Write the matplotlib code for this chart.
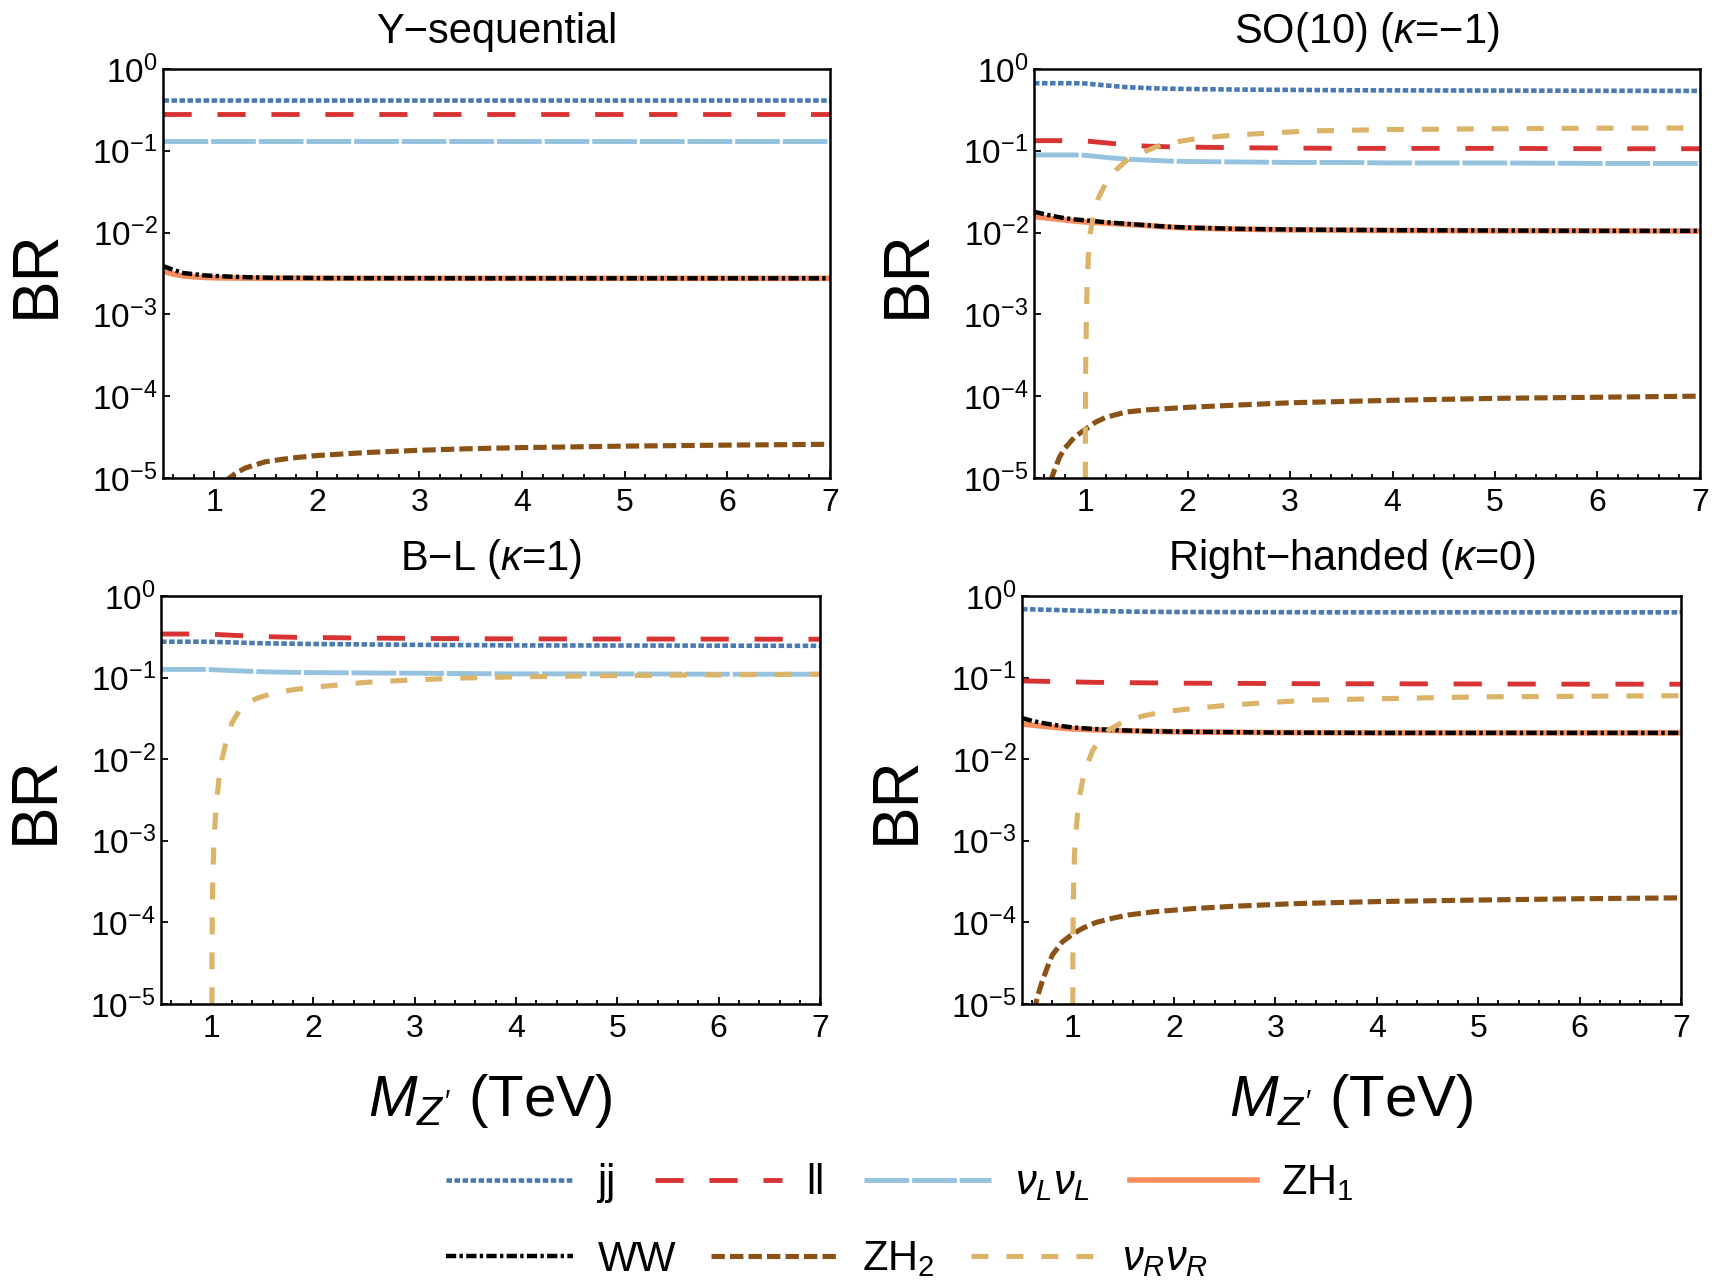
import matplotlib
matplotlib.use('Agg')
import matplotlib.pyplot as plt
from matplotlib.lines import Line2D
from matplotlib.ticker import MultipleLocator, NullLocator, LogLocator

plt.rcParams['font.family'] = ['Liberation Sans', 'DejaVu Sans']
plt.rcParams['mathtext.fontset'] = 'custom'
plt.rcParams['mathtext.rm'] = 'Liberation Sans'
plt.rcParams['mathtext.it'] = 'Liberation Sans:italic'
plt.rcParams['mathtext.bf'] = 'Liberation Sans:bold'

# common mass grid (TeV) for the smooth channels
x_main = [0.5, 0.6, 0.7, 0.8, 0.9, 1.0, 1.2, 1.4, 1.6, 1.8, 2.0, 2.5, 3.0, 3.5, 4.0, 5.0, 6.0, 7.0]

# --- Y-sequential
ys_jj = [0.42] * 18
ys_ll = [0.28] * 18
ys_vLvL = [0.133] * 18
ys_ZH1 = [0.0034, 0.0031, 0.00295, 0.00288, 0.00283, 0.0028, 0.00278, 0.00277, 0.00276, 0.00276,
          0.00276, 0.00276, 0.00276, 0.00276, 0.00276, 0.00276, 0.00276, 0.00276]
ys_WW = [0.0039, 0.0035, 0.0032, 0.0031, 0.0030, 0.00295, 0.00288, 0.00283, 0.0028, 0.0028,
         0.00278, 0.00277, 0.00277, 0.00276, 0.00276, 0.00276, 0.00276, 0.00276]
ys_x_ZH2 = [1.1, 1.2, 1.3, 1.5, 1.75, 2.0, 2.5, 3.0, 3.5, 4.0, 5.0, 6.0, 7.0]
ys_ZH2 = [9e-6, 1.12e-5, 1.32e-5, 1.58e-5, 1.75e-5, 1.88e-5, 2.05e-5, 2.18e-5, 2.28e-5, 2.35e-5,
          2.45e-5, 2.52e-5, 2.58e-5]

# --- SO(10), kappa = -1
so_jj = [0.67, 0.67, 0.67, 0.67, 0.67, 0.665, 0.63, 0.6, 0.585, 0.575, 0.57, 0.56, 0.555, 0.55,
         0.548, 0.545, 0.542, 0.54]
so_ll = [0.133, 0.133, 0.133, 0.133, 0.133, 0.132, 0.125, 0.118, 0.114, 0.112, 0.111, 0.109,
         0.108, 0.107, 0.107, 0.107, 0.106, 0.106]
so_vLvL = [0.089, 0.089, 0.089, 0.089, 0.089, 0.088, 0.083, 0.079, 0.077, 0.075, 0.074, 0.073,
           0.072, 0.072, 0.071, 0.071, 0.070, 0.070]
so_ZH1 = [0.0157, 0.0152, 0.0147, 0.0143, 0.0138, 0.0135, 0.0130, 0.0126, 0.0122, 0.0117, 0.0114,
          0.0110, 0.0108, 0.0107, 0.0106, 0.0105, 0.0105, 0.0104]
so_WW = [0.018, 0.0168, 0.0158, 0.015, 0.0145, 0.0141, 0.0134, 0.0128, 0.0123, 0.0118, 0.0115,
         0.0111, 0.0109, 0.0108, 0.0107, 0.0106, 0.0105, 0.0105]
so_x_ZH2 = [0.66, 0.7, 0.75, 0.8, 0.9, 1.0, 1.1, 1.2, 1.4, 1.6, 2.0, 2.5, 3.0, 4.0, 5.0, 6.0, 7.0]
so_ZH2 = [9e-6, 1.25e-5, 1.8e-5, 2.3e-5, 3.2e-5, 3.9e-5, 4.8e-5, 5.5e-5, 6.4e-5, 6.8e-5, 7.3e-5,
          7.8e-5, 8.3e-5, 8.9e-5, 9.4e-5, 9.7e-5, 1.0e-4]
so_x_vRvR = [1.0, 1.002, 1.005, 1.01, 1.016, 1.03, 1.05, 1.08, 1.12, 1.2, 1.3, 1.42, 1.6, 1.75,
             2.1, 2.46, 2.85, 3.2, 4.0, 5.0, 6.0, 7.0]
so_vRvR = [1e-8, 5e-5, 2.5e-4, 7e-4, 1.7e-3, 5e-3, 0.01, 0.016, 0.025, 0.04, 0.058, 0.08, 0.1,
           0.12, 0.142, 0.156, 0.166, 0.175, 0.182, 0.186, 0.189, 0.19]

# --- B-L, kappa = 1
bl_jj = [0.275, 0.275, 0.275, 0.275, 0.275, 0.274, 0.27, 0.265, 0.262, 0.26, 0.258, 0.255, 0.252,
         0.25, 0.248, 0.247, 0.246, 0.245]
bl_ll = [0.342, 0.342, 0.342, 0.342, 0.342, 0.34, 0.33, 0.322, 0.316, 0.312, 0.31, 0.305, 0.302,
         0.3, 0.298, 0.297, 0.296, 0.295]
bl_vLvL = [0.126, 0.126, 0.126, 0.126, 0.126, 0.125, 0.122, 0.119, 0.117, 0.116, 0.115, 0.114,
           0.113, 0.112, 0.111, 0.111, 0.11, 0.11]
bl_x_vRvR = [1.0, 1.002, 1.005, 1.01, 1.02, 1.04, 1.07, 1.1, 1.15, 1.2, 1.27, 1.35, 1.45, 1.6,
             1.8, 2.0, 2.5, 3.0, 3.5, 4.0, 5.0, 6.0, 7.0]
bl_vRvR = [1e-8, 3e-5, 1.3e-4, 3.5e-4, 9e-4, 2.4e-3, 5.6e-3, 0.010, 0.018, 0.028, 0.039, 0.049,
           0.056, 0.064, 0.071, 0.076, 0.087, 0.094, 0.099, 0.102, 0.106, 0.108, 0.11]

# --- Right-handed, kappa = 0
rh_jj = [0.69, 0.685, 0.68, 0.675, 0.67, 0.665, 0.655, 0.648, 0.643, 0.64, 0.637, 0.634, 0.632,
         0.631, 0.63, 0.63, 0.63, 0.63]
rh_ll = [0.091, 0.0905, 0.09, 0.0895, 0.089, 0.0885, 0.0875, 0.087, 0.0865, 0.086, 0.0855, 0.085,
         0.0845, 0.084, 0.084, 0.0835, 0.083, 0.083]
rh_ZH1 = [0.027, 0.0262, 0.0254, 0.0247, 0.024, 0.0235, 0.0229, 0.0225, 0.0222, 0.0219, 0.0217,
          0.0214, 0.0212, 0.0211, 0.021, 0.021, 0.021, 0.021]
rh_WW = [0.032, 0.0295, 0.0278, 0.0265, 0.0254, 0.0245, 0.0235, 0.0228, 0.0223, 0.022, 0.0218,
         0.0215, 0.0212, 0.0211, 0.021, 0.021, 0.021, 0.021]
rh_x_ZH2 = [0.62, 0.65, 0.7, 0.75, 0.8, 0.9, 1.0, 1.1, 1.23, 1.4, 1.56, 1.8, 2.2, 2.6, 3.2, 4.0,
            5.0, 6.0, 7.0]
rh_ZH2 = [8e-6, 1.2e-5, 1.9e-5, 2.8e-5, 4e-5, 5.8e-5, 7.2e-5, 8.5e-5, 1.0e-4, 1.13e-4, 1.24e-4,
          1.35e-4, 1.48e-4, 1.58e-4, 1.7e-4, 1.8e-4, 1.88e-4, 1.95e-4, 2.0e-4]
rh_x_vRvR = [1.0, 1.002, 1.005, 1.01, 1.02, 1.035, 1.05, 1.07, 1.1, 1.15, 1.2, 1.28, 1.36, 1.46,
             1.56, 1.7, 1.89, 2.2, 2.54, 3.0, 3.36, 4.0, 5.0, 6.0, 7.0]
rh_vRvR = [1e-8, 3e-5, 1.2e-4, 3.2e-4, 7.5e-4, 1.4e-3, 2.2e-3, 3.6e-3, 5.6e-3, 9e-3, 0.013,
           0.018, 0.023, 0.027, 0.030, 0.034, 0.038, 0.042, 0.046, 0.050, 0.053, 0.055, 0.058,
           0.059, 0.060]

# line styles per channel
styles = {
    'jj': dict(color='#4a79b6', lw=3.3, dashes=(1.2, 0.55)),
    'll': dict(color='#d93232', lw=3.5, dashes=(5.8, 5.3)),
    'vLvL': dict(color='#94c2df', lw=3.5, dashes=(9.2, 0.6)),
    'ZH1': dict(color='#f88d5e', lw=4.0),
    'WW': dict(color='black', lw=3.2, dashes=(2.3, 0.75, 0.75, 0.75)),
    'ZH2': dict(color='#8b5218', lw=3.7, dashes=(2.6, 1.0)),
    'vRvR': dict(color='#dbb469', lw=3.7, dashes=(3.3, 3.5)),
}
names = {
    'jj': 'jj',
    'll': 'll',
    'vLvL': r'$\nu_L\nu_L$',
    'ZH1': r'ZH$\mathregular{_1}$',
    'WW': 'WW',
    'ZH2': r'ZH$\mathregular{_2}$',
    'vRvR': r'$\nu_R\nu_R$',
}

panels = [
    ('Y\u2212sequential', [0.0948, 0.6266, 0.388, 0.3195],
     [('jj', x_main, ys_jj), ('ll', x_main, ys_ll), ('vLvL', x_main, ys_vLvL),
      ('ZH1', x_main, ys_ZH1), ('WW', x_main, ys_WW), ('ZH2', ys_x_ZH2, ys_ZH2)]),
    ('SO(10) ($\\kappa$=\u22121)', [0.6015, 0.6266, 0.3874, 0.3195],
     [('jj', x_main, so_jj), ('ll', x_main, so_ll), ('vLvL', x_main, so_vLvL),
      ('ZH1', x_main, so_ZH1), ('WW', x_main, so_WW), ('ZH2', so_x_ZH2, so_ZH2),
      ('vRvR', so_x_vRvR, so_vRvR)]),
    ('B\u2212L ($\\kappa$=1)', [0.0937, 0.2156, 0.3834, 0.3188],
     [('jj', x_main, bl_jj), ('ll', x_main, bl_ll), ('vLvL', x_main, bl_vLvL),
      ('vRvR', bl_x_vRvR, bl_vRvR)]),
    ('Right\u2212handed ($\\kappa$=0)', [0.5945, 0.2156, 0.3834, 0.3188],
     [('jj', x_main, rh_jj), ('ll', x_main, rh_ll), ('ZH1', x_main, rh_ZH1),
      ('WW', x_main, rh_WW), ('ZH2', rh_x_ZH2, rh_ZH2), ('vRvR', rh_x_vRvR, rh_vRvR)]),
]

fig = plt.figure(figsize=(17.19, 12.8), dpi=100)

for i, (title, pos, curves) in enumerate(panels):
    ax = fig.add_axes(pos)
    for key, xs, ys in curves:
        ax.plot(xs, ys, **styles[key])
    ax.set_yscale('log')
    ax.set_xlim(0.5, 7)
    ax.set_ylim(1e-5, 1)
    ax.yaxis.set_major_locator(LogLocator(base=10, numticks=10))
    ax.yaxis.set_minor_locator(NullLocator())
    ax.xaxis.set_major_locator(MultipleLocator(1))
    ax.xaxis.set_minor_locator(MultipleLocator(0.2))
    ax.tick_params(which='both', direction='in', top=False, right=False, width=1.3)
    ax.tick_params(which='major', length=5)
    ax.tick_params(which='minor', length=3)
    ax.tick_params(axis='x', labelsize=23, pad=7)
    ax.tick_params(axis='y', labelsize=24, pad=4)
    for sp in ax.spines.values():
        sp.set_linewidth(1.8)
    ax.set_title(title, fontsize=30, pad=19)
    ax.set_ylabel('BR', fontsize=46)
    ax.yaxis.set_label_coords(-0.145, 0.5)
    if i >= 2:
        ax.set_xlabel(r"$M_{Z'}$ (TeV)", fontsize=42, labelpad=20)

# legend in two rows below the panels
def handle(key):
    return Line2D([], [], **styles[key])

row1 = ['jj', 'll', 'vLvL', 'ZH1']
row2 = ['WW', 'ZH2', 'vRvR']
leg_kw = dict(loc='center left', frameon=False, fontsize=30, handlelength=3.05,
              handletextpad=0.58, borderpad=0, borderaxespad=0)
fig.legend([handle(k) for k in row1], [names[k] for k in row1], ncol=4, columnspacing=0.95,
           bbox_to_anchor=(0.2595, 0.0755), **leg_kw)
fig.legend([handle(k) for k in row2], [names[k] for k in row2], ncol=3, columnspacing=0.85,
           bbox_to_anchor=(0.2595, 0.016), **leg_kw)

fig.savefig('out.png', dpi=100)
